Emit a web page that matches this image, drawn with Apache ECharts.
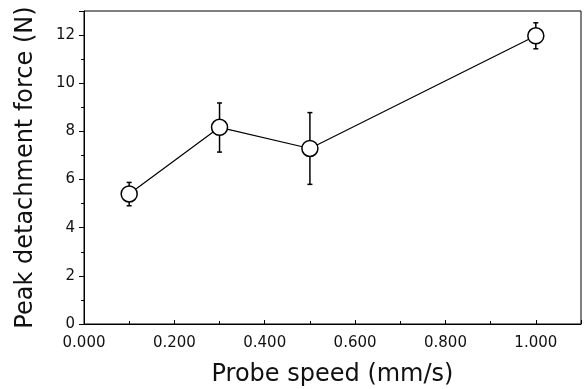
<!DOCTYPE html>
<html>
<head>
<meta charset="utf-8">
<script src="https://cdn.jsdelivr.net/npm/echarts@6/dist/echarts.min.js"></script>
<style>html,body{margin:0;padding:0;background:#fff}#c{width:585px;height:389px}</style>
</head>
<body>
<div id="c"></div>
<script>
var speeds = [0.1, 0.3, 0.5, 1.0];
var forces = [5.4, 8.17, 7.29, 11.97];
var errLow = [4.91, 7.14, 5.80, 11.43];
var errHigh = [5.88, 9.18, 8.78, 12.51];
var xTitle = 'Probe speed (mm/s)';
var yTitle = 'Peak detachment force (N)';

var lineData = speeds.map(function (s, i) { return [s, forces[i]]; });
var errData = speeds.map(function (s, i) { return [s, errLow[i], errHigh[i]]; });

var chart = echarts.init(document.getElementById('c'));
var font = 'DejaVu Sans';
chart.setOption({
  animation: false,
  backgroundColor: '#fff',
  grid: { left: 84, right: 4, top: 11, bottom: 65, containLabel: false, outerBoundsMode: 'none',
    show: true, borderColor: '#000', borderWidth: 1, backgroundColor: 'transparent' },
  xAxis: {
    type: 'value', min: 0, max: 1.1, interval: 0.2,
    name: xTitle, nameLocation: 'middle', nameGap: 39,
    nameTextStyle: { fontFamily: font, fontSize: 24, color: '#111' },
    axisLine: { show: true, onZero: false, lineStyle: { color: '#000', width: 1 } },
    axisTick: { show: true, inside: true, length: 4, lineStyle: { color: '#000' } },
    minorTick: { show: true, splitNumber: 2, length: 3, lineStyle: { color: '#000' } },
    splitLine: { show: false },
    axisLabel: {
      fontFamily: font, fontSize: 15, color: '#111', margin: 12, showMaxLabel: false,
      formatter: function (v) { return Math.abs(v * 5 - Math.round(v * 5)) < 1e-6 ? v.toFixed(3) : ''; }
    }
  },
  yAxis: {
    type: 'value', min: 0, max: 13, interval: 2,
    name: yTitle, nameLocation: 'middle', nameGap: 46,
    nameTextStyle: { fontFamily: font, fontSize: 24, color: '#111' },
    axisLine: { show: true, lineStyle: { color: '#000', width: 1 } },
    axisTick: { show: true, inside: false, length: 5, lineStyle: { color: '#000' } },
    minorTick: { show: true, splitNumber: 2, length: 3, lineStyle: { color: '#000' } },
    splitLine: { show: false },
    axisLabel: { fontFamily: font, fontSize: 15, color: '#111', margin: 9, showMaxLabel: false,
      formatter: function (v) { return v % 2 === 0 ? String(v) : ''; } }
  },
  series: [
    {
      type: 'custom', z: 2,
      data: errData,
      renderItem: function (params, api) {
        var x = api.value(0);
        var lo = api.coord([x, api.value(1)]);
        var hi = api.coord([x, api.value(2)]);
        var w = 2.5;
        var st = { stroke: '#000', lineWidth: 1.5 };
        return {
          type: 'group',
          children: [
            { type: 'line', shape: { x1: lo[0], y1: lo[1], x2: hi[0], y2: hi[1] }, style: st },
            { type: 'line', shape: { x1: lo[0] - w, y1: lo[1], x2: lo[0] + w, y2: lo[1] }, style: st },
            { type: 'line', shape: { x1: hi[0] - w, y1: hi[1], x2: hi[0] + w, y2: hi[1] }, style: st }
          ]
        };
      }
    },
    {
      type: 'line', z: 3,
      data: lineData,
      symbol: 'circle', symbolSize: 16,
      itemStyle: { color: '#fff', borderColor: '#000', borderWidth: 1.5 },
      lineStyle: { color: '#000', width: 1.2 }
    }
  ]
});
</script>
</body>
</html>
